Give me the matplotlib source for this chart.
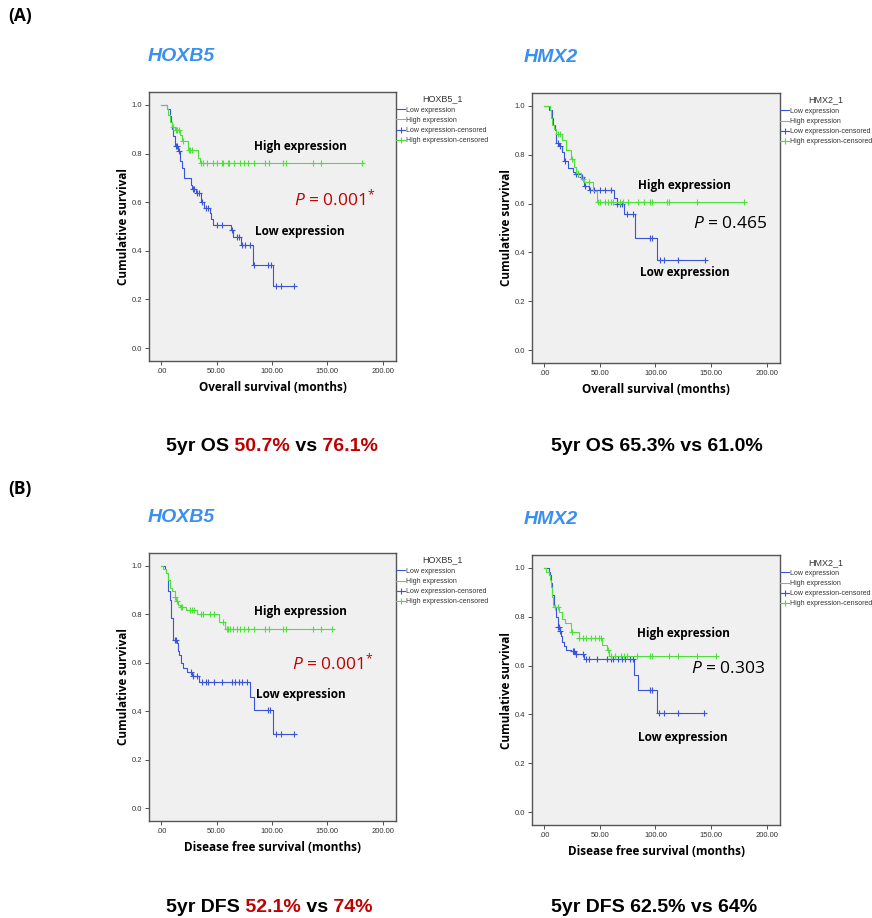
import matplotlib
matplotlib.use('Agg')
import matplotlib.pyplot as plt
import numpy as np
from matplotlib.lines import Line2D
from matplotlib import font_manager

plt.rcParams.update({
    'font.family': ['Liberation Sans', 'DejaVu Sans'],
    'mathtext.fontset': 'custom',
    'mathtext.it': 'Open Sans:italic',
    'mathtext.rm': 'Open Sans',
})

LABEL_FONT = ['Open Sans', 'DejaVu Sans']

# summary lines use a condensed Arial-like face when one is available
_installed = {f.name for f in font_manager.fontManager.ttflist}
if 'Liberation Sans Narrow' in _installed:
    SUMMARY_FONT, SUMMARY_SIZE = ['Liberation Sans Narrow', 'DejaVu Sans'], 16.5
else:
    SUMMARY_FONT, SUMMARY_SIZE = ['Liberation Sans', 'DejaVu Sans'], 14

# ---------------- data ----------------
# (A) overall survival, HOXB5
os_hoxb5_low_t = [5, 8, 9, 10, 11, 12, 15, 17, 19, 21, 27, 28, 31, 36, 39, 44, 45, 47, 63, 65, 72, 83, 101]
os_hoxb5_low_s = [0.985, 0.955, 0.93, 0.90, 0.87, 0.83, 0.81, 0.77, 0.74, 0.70, 0.67, 0.655, 0.637, 0.60,
                  0.578, 0.555, 0.53, 0.505, 0.484, 0.458, 0.424, 0.34, 0.254]
os_hoxb5_low_cens = [13, 14, 16, 28.5, 29.5, 32, 34, 37, 40, 42, 50, 55, 64, 68, 70, 73, 76, 80, 84, 96,
                     99, 104, 108, 120]
os_hoxb5_high_t = [5, 6, 8, 10, 12, 17, 19, 24, 33, 35]
os_hoxb5_high_s = [0.985, 0.96, 0.93, 0.91, 0.895, 0.877, 0.85, 0.814, 0.78, 0.761]
os_hoxb5_high_cens = [10.5, 13, 14, 16, 20, 25, 26, 28, 36, 38, 41, 47, 50, 55, 56, 60, 61, 66, 71, 75,
                      78, 84, 94, 97, 110, 113, 137, 144, 181]

# (A) overall survival, HMX2
os_hmx2_low_t = [4, 7, 8, 10, 11, 13, 16, 18, 21, 26, 28, 33, 36, 40, 63, 65, 72, 82, 101]
os_hmx2_low_s = [0.985, 0.95, 0.92, 0.90, 0.85, 0.835, 0.81, 0.776, 0.747, 0.73, 0.72, 0.71, 0.673,
                 0.655, 0.622, 0.598, 0.558, 0.46, 0.368]
os_hmx2_low_cens = [12, 14, 19, 28.5, 30, 34, 37, 41, 45, 50, 55, 60, 65.5, 68, 70, 74, 80, 95, 97, 104,
                    108, 120, 145]
os_hmx2_high_t = [5, 6, 7, 9, 11, 16, 20, 24, 27, 29, 33, 36, 44, 47]
os_hmx2_high_s = [0.985, 0.95, 0.92, 0.905, 0.886, 0.86, 0.82, 0.784, 0.75, 0.725, 0.70, 0.688, 0.65, 0.607]
os_hmx2_high_cens = [12, 14, 25, 30, 35, 40, 48, 50, 55, 57, 60, 62, 68, 71, 75, 84, 90, 95, 97, 110,
                     112, 137, 180]

# (B) disease free survival, HOXB5
dfs_hoxb5_low_t = [3, 4, 6, 8, 9, 11, 14, 15, 16, 18, 20, 23, 28, 34, 80, 84, 101]
dfs_hoxb5_low_s = [0.985, 0.97, 0.897, 0.86, 0.786, 0.695, 0.68, 0.65, 0.63, 0.60, 0.58, 0.56, 0.545,
                   0.522, 0.46, 0.407, 0.305]
dfs_hoxb5_low_cens = [12, 13, 27, 28.5, 32, 37, 40, 42, 48, 55, 64, 67, 70, 73, 77, 96, 98, 104, 108, 120]
dfs_hoxb5_high_t = [2, 4, 6, 8, 10, 12, 13, 15, 17, 22, 32, 52, 58]
dfs_hoxb5_high_s = [0.985, 0.97, 0.94, 0.91, 0.895, 0.87, 0.855, 0.84, 0.83, 0.819, 0.80, 0.77, 0.739]
dfs_hoxb5_high_cens = [12.5, 14, 17.5, 19, 26, 28, 30, 36, 38, 44, 48, 56, 59, 60, 62, 65, 68, 71, 75,
                       78, 84, 94, 97, 110, 113, 137, 144, 154]

# (B) disease free survival, HMX2
dfs_hmx2_low_t = [4, 5, 6, 7, 9, 11, 12, 14, 15, 16, 18, 20, 24, 28, 36, 81, 84, 101]
dfs_hmx2_low_s = [0.985, 0.97, 0.94, 0.89, 0.84, 0.80, 0.757, 0.74, 0.72, 0.695, 0.68, 0.665, 0.66,
                  0.647, 0.626, 0.56, 0.50, 0.405]
dfs_hmx2_low_cens = [12.3, 13, 14.3, 26, 27, 28.5, 29, 35, 38, 40, 47, 56, 60, 62, 66, 70, 73, 77, 80,
                     95, 97, 103, 108, 120, 144]
dfs_hmx2_high_t = [2, 4, 5, 6, 7, 8, 9, 13, 16, 19, 24, 31, 52, 56, 58]
dfs_hmx2_high_s = [0.985, 0.97, 0.95, 0.92, 0.88, 0.85, 0.842, 0.82, 0.79, 0.775, 0.736, 0.714, 0.684,
                   0.665, 0.641]
dfs_hmx2_high_cens = [10, 12, 25, 31.5, 35, 38, 42, 46, 49, 51, 57, 60, 64, 69, 72, 74, 83, 95, 97, 112,
                      120, 137, 154]

p_values = ['0.001', '0.465', '0.001', '0.303']
p_signif = [True, False, True, False]
gene_names = ['HOXB5', 'HMX2', 'HOXB5', 'HMX2']
xlabels = ['Overall survival (months)'] * 2 + ['Disease free survival (months)'] * 2
xticks = [0, 50, 100, 150, 200]
xtick_labels = ['.00', '50.00', '100.00', '150.00', '200.00']
yticks = [0.0, 0.2, 0.4, 0.6, 0.8, 1.0]
legend_labels = ['Low expression', 'High expression', 'Low expression-censored', 'High expression-censored']

# bottom summaries: (text, is_highlighted)
summary_os_hoxb5 = [('5yr OS', False), (' 50.7%', True), (' vs', False), (' 76.1%', True)]
summary_os_hmx2 = [('5yr OS 65.3% vs 61.0%', False)]
summary_dfs_hoxb5 = [('5yr DFS', False), (' 52.1%', True), (' vs', False), (' 74%', True)]
summary_dfs_hmx2 = [('5yr DFS 62.5% vs 64%', False)]

BLUE = '#3a55d8'
GREEN = '#4ee03a'
RED = '#c00000'
TITLE_BLUE = '#3a8ff0'

fig = plt.figure(figsize=(8.72, 9.18), dpi=100)

# axes boxes in figure fractions
positions = [
    [0.1709, 0.6068, 0.2833, 0.2930],
    [0.6101, 0.6046, 0.2844, 0.2941],
    [0.1709, 0.1057, 0.2833, 0.2919],
    [0.6101, 0.1013, 0.2844, 0.2941],
]

panels = [
    (os_hoxb5_low_t, os_hoxb5_low_s, os_hoxb5_low_cens, os_hoxb5_high_t, os_hoxb5_high_s, os_hoxb5_high_cens),
    (os_hmx2_low_t, os_hmx2_low_s, os_hmx2_low_cens, os_hmx2_high_t, os_hmx2_high_s, os_hmx2_high_cens),
    (dfs_hoxb5_low_t, dfs_hoxb5_low_s, dfs_hoxb5_low_cens, dfs_hoxb5_high_t, dfs_hoxb5_high_s, dfs_hoxb5_high_cens),
    (dfs_hmx2_low_t, dfs_hmx2_low_s, dfs_hmx2_low_cens, dfs_hmx2_high_t, dfs_hmx2_high_s, dfs_hmx2_high_cens),
]

# annotation positions (data coords): high label, p value, low label
label_pos = [
    ((126, 0.827), (157, 0.617), (125, 0.481)),
    ((126, 0.673), (167, 0.516), (126, 0.319)),
    ((126, 0.812), (155, 0.602), (126, 0.467)),
    ((125, 0.732), (165, 0.585), (125, 0.304)),
]


def draw_km(ax, t, s, cens, color):
    end = max(max(cens), t[-1])
    xs = np.concatenate([[0], t, [end]])
    ys = np.concatenate([[1.0], s, [s[-1]]])
    ax.step(xs, ys, where='post', color=color, lw=0.8)
    # censored marks sit on the curve value at that time
    idx = np.searchsorted(xs, cens, side='right') - 1
    ax.plot(cens, ys[idx], ls='none', marker='+', ms=5, mew=0.8, color=color)


for i, (pos, data) in enumerate(zip(positions, panels)):
    ax = fig.add_axes(pos)
    ax.set_facecolor('#f0f0f0')
    lo_t, lo_s, lo_c, hi_t, hi_s, hi_c = data
    draw_km(ax, lo_t, lo_s, lo_c, BLUE)
    draw_km(ax, hi_t, hi_s, hi_c, GREEN)

    ax.set_xlim(-11, 212)
    ax.set_ylim(-0.053, 1.053)
    ax.set_xticks(xticks)
    ax.set_xticklabels(xtick_labels)
    ax.set_yticks(yticks)
    ax.set_yticklabels([f'{v:.1f}' for v in yticks])
    ax.tick_params(labelsize=5.5, length=3, width=0.6, colors='#333333', pad=2)
    for sp in ax.spines.values():
        sp.set_color('#555555')
        sp.set_linewidth(1.0)

    ax.set_xlabel(xlabels[i], fontsize=8.5, fontweight='bold', family=LABEL_FONT)
    ax.set_ylabel('Cumulative survival', fontsize=8.5, fontweight='bold', family=LABEL_FONT)
    ax.xaxis.set_label_coords(0.5, -0.075)
    ax.yaxis.set_label_coords(-0.077, 0.5)

    hp, pp, lp = label_pos[i]
    ax.text(*hp, 'High expression', fontsize=8.5, fontweight='bold', family=LABEL_FONT,
            ha='center', va='center')
    ax.text(*lp, 'Low expression', fontsize=8.5, fontweight='bold', family=LABEL_FONT,
            ha='center', va='center')
    ptxt = r'$\mathit{P}$ = ' + p_values[i] + (r'$^{*}$' if p_signif[i] else '')
    ax.text(*pp, ptxt, fontsize=12.5, family=LABEL_FONT, ha='center', va='center',
            color=RED if p_signif[i] else 'black')

    handles = [
        Line2D([], [], color=BLUE, lw=0.8),
        Line2D([], [], color=GREEN, lw=0.8),
        Line2D([], [], color=BLUE, lw=0.8, marker='+', ms=5, mew=0.8),
        Line2D([], [], color=GREEN, lw=0.8, marker='+', ms=5, mew=0.8),
    ]
    leg = ax.legend(handles, legend_labels, title=gene_names[i] + '_1', loc='upper left',
                    bbox_to_anchor=(1.0, 0.99), frameon=False, fontsize=5,
                    title_fontsize=6.5, handlelength=1.3, handletextpad=0.15,
                    labelspacing=0.45, borderaxespad=0.0, borderpad=0.0)
    leg.get_title().set_color('#333333')
    for txt in leg.get_texts():
        txt.set_color('#333333')

    # gene title above the panel
    cx = pos[0] + (0.0365 if gene_names[i] == 'HOXB5' else 0.022)
    fig.text(cx, pos[1] + pos[3] + 0.039, gene_names[i], fontsize=14, fontweight='bold',
             style='italic', color=TITLE_BLUE, ha='center', va='center')

fig.text(0.009, 0.983, '(A)', fontsize=12.5, fontweight='bold', family=LABEL_FONT,
         ha='left', va='center')
fig.text(0.009, 0.467, '(B)', fontsize=12.5, fontweight='bold', family=LABEL_FONT,
         ha='left', va='center')


def summary(x, y, pieces):
    prev = None
    for txt, hl in pieces:
        col = RED if hl else 'black'
        if prev is None:
            prev = fig.text(x, y, txt, fontsize=SUMMARY_SIZE, fontweight='bold', color=col,
                            family=SUMMARY_FONT, ha='left', va='baseline')
        else:
            prev = fig.axes[0].annotate(txt, xy=(1, 0), xycoords=prev, fontsize=SUMMARY_SIZE,
                                        fontweight='bold', color=col, family=SUMMARY_FONT,
                                        ha='left', va='bottom', annotation_clip=False)


summary(0.1905, 0.5087, summary_os_hoxb5)
summary(0.632, 0.5087, summary_os_hmx2)
summary(0.1905, 0.006, summary_dfs_hoxb5)
summary(0.632, 0.006, summary_dfs_hmx2)

fig.savefig('out.png', dpi=100, facecolor='white')
